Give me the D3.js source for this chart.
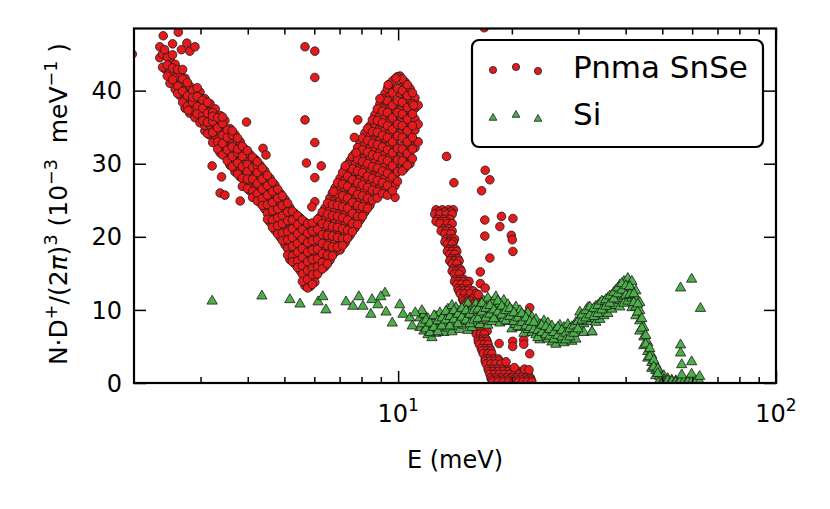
<!DOCTYPE html>
<html><head><meta charset="utf-8">
<script src="https://cdn.jsdelivr.net/npm/d3@7/dist/d3.min.js"></script>
<style>html,body{margin:0;padding:0;background:#fff}svg{display:block;font-family:"DejaVu Sans",sans-serif}</style>
</head><body><svg id="c" width="830" height="509"></svg>
<script>
// ---------- tick values ----------
const xTicks = [10, 100];
const xMinor = [3,4,5,6,7,8,9,20,30,40,50,60,70,80,90];
const yTicks = [0, 10, 20, 30, 40];
const seriesNames = ["Pnma SnSe", "Si"];

// ---------- Pnma SnSe : main V-shaped band (E columns, D values) ----------
const snseColE = [2.34,2.41,2.49,2.57,2.65,2.73,2.81,2.90,2.99,3.08,3.18,3.28,3.38,3.48,3.59,3.70,3.82,3.93,4.05,4.18,4.31,4.44,4.58,4.72,4.87,5.02,5.17,5.33,5.50,5.67,5.85,6.02,6.21,6.40,6.60,6.81,7.02,7.24,7.46,7.69,7.93,8.17,8.42,8.68,8.95,9.23,9.51,9.81,10.11,10.42,10.75,11.08,11.3];
const snseColD = [
 [44.5,46.0],[45.3,43.0],[44.3,42.5,41.0],[43.6,41.8,40.2],[42.4,40.9,39.3],
 [41.7,40.1,38.8,37.6],[40.6,39.5,38.0,36.9],[40.2,38.6,37.2,36.3],[39.8,38.3,37.0,35.6,39.0],
 [38.9,37.4,36.1,34.5,35.2],[38.2,36.6,35.3,33.9,37.1],[37.5,36.0,34.8,33.3,35.5],
 [36.6,35.1,33.7,32.2,34.4,31.5],[35.9,34.3,33.0,31.4,32.5],[34.8,33.4,32.1,30.6,29.8,31.7],
 [34.0,32.6,31.2,29.9,28.9,30.6],[33.0,31.8,30.4,29.1,28.2,30.0],[32.0,30.7,29.5,28.3,27.2,29.9],
 [31.3,30.0,28.7,27.5,26.3,29.2],[30.6,29.3,28.0,26.8,25.6,27.6],[29.8,28.5,27.1,26.0,24.7,27.9],
 [29.0,27.6,26.3,25.0,23.8,26.8],[28.0,26.7,25.3,24.0,22.7,25.8,22.0],[27.1,25.8,24.4,23.2,21.9,20.9,24.9],
 [26.0,24.8,23.5,22.3,21.0,20.0,23.9],[25.1,23.9,22.6,21.3,20.1,18.9,22.0],
 [24.0,22.8,21.6,20.3,19.1,17.8,21.0,16.9],[23.2,22.0,20.8,19.5,18.3,17.1,16.3,21.4],
 [22.6,21.3,20.0,18.8,17.5,16.2,15.4,19.5],[22.0,20.7,19.4,18.1,16.9,15.6,14.5,17.7,13.3],
 [21.5,20.2,19.0,17.7,16.4,15.2,14.3,18.5,13.2],[21.8,20.5,19.2,17.9,16.6,15.3,14.6,13.8],
 [22.7,21.2,19.8,18.6,17.3,16.0,15.4,20.5],[23.9,22.4,21.0,19.6,18.3,17.0,15.9,20.3],
 [25.3,23.8,22.3,20.9,19.5,18.1,16.8,21.6],[26.7,25.2,23.6,22.2,20.7,19.3,17.9,24.5],
 [28.0,26.5,25.0,23.5,22.0,20.6,19.2,18.2,24.2],[29.4,27.9,26.4,24.8,23.3,21.8,20.4,19.2,25.7],
 [30.4,28.9,27.3,25.8,24.3,22.8,21.4,20.2,26.6],[31.4,29.9,28.3,26.8,25.2,23.7,22.2,21.2,27.8,24.6],
 [32.8,31.2,29.6,28.0,26.5,25.0,23.5,22.3,30.4],[34.2,32.6,31.0,29.4,27.8,26.3,24.8,23.4,28.6,31.8],
 [35.2,33.7,32.1,30.5,28.9,27.3,25.8,24.3,31.0],[36.7,35.1,33.5,31.8,30.2,28.6,27.0,25.5,34.2,29.4],
 [38.2,36.5,34.9,33.2,31.6,30.0,28.4,26.8,26.0,35.7],[39.6,37.9,36.3,34.6,32.9,31.3,29.7,28.1,26.5,38.6,33.5],
 [40.9,39.3,37.6,35.9,34.3,32.6,31.0,29.3,27.7,26.4,36.6],[41.6,40.0,38.3,36.7,35.0,33.4,31.8,30.1,28.5,27.0,25.4,37.5],
 [42.0,40.5,38.9,37.3,35.7,34.1,32.4,30.8,29.2,39.6],[41.2,39.7,38.2,36.6,35.0,33.4,31.8,30.2,29.4],
 [40.3,38.8,37.3,35.7,34.1,32.6,31.1,30.0,36.4],[39.0,37.6,36.1,34.6,33.1,32.2],[38.0,35.4,33.0]
];
// interleaved columns of the same band
const snseColE2 = [2.38,2.45,2.53,2.61,2.69,2.77,2.86,2.94,3.04,3.13,3.23,3.33,3.43,3.53,3.64,3.76,3.87,3.99,4.12,4.24,4.37,4.51,4.65,4.80,4.94,5.10,5.25,5.42,5.58,5.76,5.93,6.12,6.30,6.50,6.70,6.91,7.13,7.35,7.57,7.81,8.05,8.30,8.55,8.81,9.09,9.37,9.66,9.96,10.26,10.58,10.91];
const snseColD2 = [
 [45.0,43.2],[44.6,42.0,43.5],[43.1,41.5,44.9],[42.9,40.6,39.6],[41.6,39.9,42.9,38.4],[41.1,39.3,37.9],
 [40.0,38.4,39.1,37.3],[39.2,37.8,36.8,40.4],[38.7,36.6,35.9,37.6],[38.4,36.9,35.7,34.1],[37.0,35.8,34.3,36.5,32.9],
 [36.3,34.9,33.0,32.0],[35.5,33.9,32.8,31.2,36.4],[34.6,33.6,31.9,30.4],[33.9,32.3,31.0,29.6,34.5],
 [33.5,31.5,30.1,28.6,32.0],[32.4,31.0,29.6,28.0,26.9],[31.8,29.9,28.9,27.9,26.6],[30.9,29.5,27.9,26.2,25.4],
 [29.7,28.8,27.3,25.9,24.9,30.3],[29.4,27.9,26.5,25.2,24.3],[28.4,27.0,25.7,24.4,23.2,22.4],
 [27.5,26.2,24.7,23.6,22.3,21.3],[26.5,25.3,23.8,22.6,21.5,20.4],[25.6,24.3,22.9,21.8,20.5,19.5],
 [24.6,23.4,22.2,20.7,19.6,18.4,17.5],[23.5,22.3,21.1,19.9,18.7,17.4,16.6],[22.9,21.7,20.4,19.1,17.9,16.7,15.8],
 [22.3,21.0,19.7,18.4,17.2,16.0,14.9,13.9],[21.8,20.5,19.2,17.9,16.6,15.4,14.2,13.0],
 [21.9,20.8,19.5,18.2,16.9,15.7,14.8,13.5],[22.4,21.0,19.6,18.3,17.0,15.9,14.9],
 [23.4,21.8,20.3,19.1,17.7,16.5,15.6],[24.6,23.1,21.6,20.2,18.8,17.5,16.3],[26.0,24.4,22.9,21.4,20.1,18.6,17.4],
 [27.4,25.9,24.3,22.8,21.3,19.9,18.6],[28.8,27.2,25.6,24.1,22.6,21.1,19.7,18.8],[29.9,28.3,26.9,25.3,23.9,22.3,20.9,19.8],
 [31.0,29.3,27.8,26.3,24.7,23.2,21.8,20.7],[32.2,30.6,29.0,27.4,25.8,24.3,22.8,21.7],
 [33.5,31.9,30.3,28.8,27.1,25.6,24.1,22.8],[34.8,33.2,31.6,30.0,28.3,26.8,25.3,23.9],
 [36.0,34.4,32.8,31.2,29.6,28.0,26.4,25.0],[37.5,35.9,34.3,32.6,31.0,29.4,27.7,26.2,25.3],
 [38.9,37.2,35.6,33.9,32.3,30.6,29.0,27.4,25.9],[40.3,38.6,37.0,35.2,33.6,31.9,30.4,28.7,27.0,25.7],
 [41.3,39.7,38.0,36.3,34.7,33.0,31.5,29.7,28.2,26.3],[41.9,40.3,38.6,37.0,35.4,33.8,32.1,30.5,28.9,27.6],
 [41.6,40.0,38.4,36.8,35.2,33.6,32.0,30.4,29.0],[40.8,39.3,37.7,36.1,34.5,33.0,31.4,29.8],
 [39.7,38.2,36.8,35.2,33.6,32.0,30.7]
];

// ---------- Pnma SnSe : steep second branch (D rows, E values) ----------
const snseBrD = [23.7,23.4,23.1,22.4,22.1,21.8,21.1,20.8,20.4,19.7,19.3,19.0,18.3,18.0,17.6,17.0,16.7,16.3,15.6,15.3,14.9,14.2,13.9,13.5,12.9,12.6,12.2,11.5,11.2,10.8,10.1,9.8,9.4,8.8,8.4,8.1,7.4,7.1,6.7,6.0,5.7,5.3,4.7,4.4,4.0,3.3,3.0,2.6,1.9,1.6,1.2,0.7,0.4,0.15];
const snseBrE = [
 [12.6,13.1,13.6,14.0],[12.8,13.3,13.8],[12.5,12.9,13.4,13.9],[12.7,13.2,13.7],[12.6,13.0,13.4],[12.9,13.5,13.9],
 [13.2,13.6],[13.0,13.4,13.9],[13.3,13.8],[13.4,13.8,14.1],[13.3,13.7,14.0],[13.5,13.9],
 [13.6,14.0,14.2],[13.5,13.9,14.3],[13.7,14.1],[13.8,14.2,14.4],[13.7,14.1,14.5],[13.9,14.3],
 [14.0,14.4,14.6],[13.9,14.3,14.7],[14.1,14.5],[14.2,14.6,14.9],[14.1,14.5,14.9,15.4],[14.3,14.7,15.2],
 [14.4,14.8,15.4],[14.5,14.9,15.3,15.8],[14.6,15.0,15.5,16.1],[14.8,15.2,15.7,16.3],[14.9,15.3,15.6,16.1],
 [15.0,15.4,15.9,16.4],[15.2,15.6,16.1],[15.3,15.7,16.2],[15.4,15.8,16.3],[15.6,16.0,16.5],[15.7,16.1,16.5],
 [15.8,16.2,16.6],[15.9,16.3,16.8],[16.0,16.4,16.8,17.2],[16.1,16.5,16.9],[16.3,16.7,17.1],[16.3,16.7,17.2],
 [16.4,16.9,17.3],[16.6,17.1,17.5],[16.7,17.2,17.6],[16.8,17.3,17.7],[17.0,17.4,17.9,18.4],[17.0,17.5,18.0,18.5],
 [17.1,17.6,18.1,18.7],[17.3,17.8,18.3,18.9,19.5],[17.4,17.9,18.4,19.0,19.6,20.2,20.8,21.4,22.0],
 [17.5,18.0,18.5,19.1,19.7,20.3,20.9,21.5,22.1],[17.6,18.2,18.8,19.4,20.0,20.6,21.2,21.8,22.4],
 [17.7,18.3,18.9,19.5,20.1,20.7,21.3,21.9,22.5],[17.8,18.4,19.0,19.6,20.2,20.8,21.4,22.0,22.6]
];

// ---------- Pnma SnSe : scattered points [E, D] ----------
const snseExtra = [
 [1.98,45.0],[2.39,47.5],[2.53,46.4],[2.67,45.6],[2.76,46.5],[2.81,45.4],[2.90,46.0],[2.41,45.6],[2.62,48.0],
 [2.78,37.3],[3.22,29.7],[3.41,28.2],[3.38,26.0],[3.48,25.7],[3.82,24.9],[3.97,35.7],[4.39,32.1],[4.47,31.2],
 [5.67,46.0],[6.02,45.4],[6.02,41.8],[5.67,36.0],[6.02,32.9],[5.72,30.1],[6.26,29.7],[6.02,28.1],[6.02,24.8],[5.91,24.1],
 [7.82,36.0],[7.66,33.6],[7.74,31.5],[7.25,29.7],[6.75,26.2],[9.87,41.7],[9.41,40.8],[8.95,38.9],[11.0,38.0],
 [13.43,31.0],[14.05,27.4],[17.0,29.1],[17.49,27.8],[16.63,26.3],[16.9,48.6],
 [16.96,22.3],[18.59,21.4],[18.77,22.8],[20.13,22.5],[16.96,20.1],[19.93,20.2],[20.05,19.6],[20.13,18.0],
 [17.49,17.1],[16.5,15.2],[16.5,13.6],[17.0,13.0],[16.3,12.1],[22.3,10.3],[21.9,9.4],
 [18.5,5.4],[20.1,5.7],[20.1,5.0],[21.5,5.9],[21.5,5.3],[22.3,4.0],[19.3,2.9],[20.3,2.1],[21.6,1.9],[22.2,1.8]
];

// ---------- Si : dense band (E columns, D values) ----------
const siColE = [11.42,11.70,11.99,12.29,12.59,12.90,13.22,13.54,13.88,14.22,14.57,14.93,15.30,15.68,16.06,16.46,16.86,17.28,17.70,18.14,18.59,19.04,19.52,20.00,20.49,21.00,21.52,22.05,22.59,23.15,23.72,24.31,24.91,25.52,26.15,26.79,27.46,28.13,28.83,29.54,30.26,31.01,31.78,32.56,33.37,34.18,35.03,35.89,36.78,37.69,38.61,39.57,40.54,41.55,42.57,43.60,44.68,45.78,46.91,48.07,49.25,50.47,51.71,52.99,54.29,55.63,57.01,58.41,59.85,61.33,62.83];
const siColD = [
 [8.9,7.6],[8.3,7.1,9.4],[7.9,6.6,8.8],[8.6,7.3,6.2],[9.1,7.8,6.8],[8.4,7.2,9.6],[9.3,8.0,6.9],[10.1,8.7,7.5],
 [9.6,8.3,7.0,10.6],[9.0,7.7,10.3],[9.8,8.5,7.3],[10.4,9.1,7.9],[9.7,8.4,7.2,10.9],[10.2,8.9,7.6],[9.5,8.2,10.8],
 [10.6,9.3,8.0],[11.2,9.9,8.6],[10.5,9.2,7.9,11.6],[11.0,9.7,8.4],[10.3,9.0,11.8],[10.8,9.5,8.2],[10.1,8.8,11.3],
 [9.6,8.4,10.7],[9.9,8.6,7.4],[9.3,8.0,10.4],[8.8,7.6,9.9],[9.2,7.9,6.8],[8.5,7.3,9.6],[8.1,6.9,9.0],[7.7,6.6,8.7],
 [8.0,6.8,5.9],[7.4,6.3,8.5],[7.1,6.0,8.2],[6.7,5.6,7.8],[7.3,6.2,5.3],[7.0,5.9,7.9],[6.5,5.5,7.6],[7.2,6.1,8.0],
 [7.7,6.6,5.7],[8.3,7.1,6.0],[8.8,7.6,9.7],[9.2,8.1,6.9],[9.6,8.4,10.3],[10.0,8.8,7.0],[9.4,8.3,10.5],[9.8,8.7,10.9],
 [10.3,9.2,11.1],[10.7,9.5,11.6],[11.2,10.1,12.0],[11.9,10.6,12.7],[12.5,11.3,13.4,10.4],[13.1,11.8,13.9,10.9],
 [13.6,12.3,14.3,11.2],[12.8,11.6,10.3,13.9],[11.7,10.4,9.2,12.6],[9.9,8.5,7.1,11.0],[7.6,6.3,5.1],[5.5,4.3,3.4],
 [3.8,2.8,2.0],[2.5,1.7,1.0],[1.5,0.9,0.4],[1.0,0.5,0.2],[0.6,0.3],[0.4,0.2],[0.3,0.1],[0.4,0.15],[0.2],[0.3,0.1],[0.2],[0.3],[0.2]
];
const siColE2 = [11.56,11.85,12.14,12.44,12.74,13.06,13.38,13.71,14.05,14.40,14.75,15.12,15.49,15.87,16.26,16.66,17.07,17.49,17.92,18.36,18.81,19.27,19.76,20.24,20.74,21.25,21.78,22.32,22.87,23.43,24.01,24.61,25.21,25.83,26.47,27.12,27.79,28.47,29.18,29.90,30.64,31.39,32.16,32.96,33.77,34.60,35.45,36.33,37.22,38.14,39.08,40.05,41.03,42.05,43.08,44.14,45.23,46.34,47.49,48.66];
const siColD2 = [
 [8.1,9.9],[7.4,8.6],[8.2,6.9],[7.6,9.2],[8.5,7.0],[7.8,8.9],[8.6,9.8],[9.1,7.8],[8.7,9.9],[8.1,9.4],
 [9.0,10.2],[8.6,9.9],[9.4,8.1],[9.9,8.6],[10.1,8.8],[9.7,10.9],[10.2,8.9],[10.6,9.4],[10.0,8.8],[9.7,11.2],
 [9.3,10.5],[9.9,8.5],[9.1,10.2],[8.4,9.6],[8.9,7.7],[8.3,9.5],[7.8,8.9],[7.6,8.4],[7.3,8.3],[7.2,6.2],
 [6.9,7.9],[6.6,7.7],[6.4,7.3],[6.0,6.9],[6.5,7.6],[6.3,7.2],[6.8,5.9],[7.4,6.3],[7.8,6.8],[8.4,7.4],
 [8.6,9.3],[8.9,9.9],[9.3,10.4],[9.1,10.2],[9.5,10.6],[10.0,11.2],[10.5,11.4],[10.9,11.9],[11.5,12.4],[12.2,13.0],
 [12.7,13.6],[13.3,12.0],[13.2,12.1],[12.2,11.0],[10.8,9.7],[8.8,7.5],[6.5,5.3],[4.7,3.6],[3.1,2.2],[1.9,1.3]
];

// ---------- Si : scattered points [E, D] ----------
const siExtra = [
 [3.22,11.2],[4.36,11.9],[5.17,11.4],[5.5,10.8],[6.14,11.1],[6.32,11.8],[6.44,10.0],[7.28,11.1],[7.59,10.5],[7.87,11.8],
 [8.07,10.5],[8.53,11.4],[8.84,10.7],[9.23,12.3],[9.0,11.8],[8.47,9.4],[9.29,9.7],[9.65,8.2],[10.1,10.7],[10.3,9.4],
 [10.75,8.9],[11.1,9.6],[10.9,7.8],[32.6,7.0],[55.9,13.0],[59.8,14.2],[63.1,10.2],[55.9,5.2],[55.9,4.1],[59.8,2.9],
 [56.3,2.5],[56.3,1.1],[59.8,1.2],[62.8,0.9]
];

// ---------- build point lists ----------
const snse = [];
snseColE.forEach((e,i)=>snseColD[i].forEach(d=>snse.push([e,d])));
snseColE2.forEach((e,i)=>snseColD2[i].forEach(d=>snse.push([e,d])));
snseBrD.forEach((d,i)=>snseBrE[i].forEach(e=>snse.push([e,d])));
snseExtra.forEach(p=>snse.push(p));
const si = [];
siColE.forEach((e,i)=>siColD[i].forEach(d=>si.push([e,d])));
siColE2.forEach((e,i)=>siColD2[i].forEach(d=>si.push([e,d])));
siExtra.forEach(p=>si.push(p));

// ---------- layout ----------
const L=134, R=776, T=28.5, B=383;
const red="#e41a1c", green="#4daf4a";
const svg=d3.select("#c");
svg.append("rect").attr("width",830).attr("height",509).attr("fill","#fff");
const x=d3.scaleLog().domain([2,100]).range([L,R]);
const y=d3.scaleLinear().domain([0,48.5]).range([B,T]);

svg.append("defs").append("clipPath").attr("id","clip")
  .append("rect").attr("x",L).attr("y",T).attr("width",R-L).attr("height",B-T);
const gd=svg.append("g").attr("clip-path","url(#clip)");

gd.append("g").selectAll("circle").data(snse).join("circle")
  .attr("cx",d=>x(d[0])).attr("cy",d=>y(d[1])).attr("r",4.3)
  .attr("fill",red).attr("stroke","#1a1a1a").attr("stroke-width",0.8);

const tri=d3.symbol().type(d3.symbolTriangle).size(46);
gd.append("g").selectAll("path").data(si).join("path")
  .attr("d",tri).attr("transform",d=>`translate(${x(d[0])},${y(d[1])})`)
  .attr("fill",green).attr("stroke","#1a1a1a").attr("stroke-width",0.8);

// ---------- axes (ticks inward on all sides) ----------
function styleAxis(g){ g.select(".domain").remove(); g.selectAll(".tick line").attr("stroke","#000").attr("stroke-width",1.5); g.selectAll(".tick text").remove(); }
svg.append("g").attr("transform",`translate(0,${B})`).call(d3.axisBottom(x).tickValues(xTicks).tickSize(-12)).call(styleAxis);
svg.append("g").attr("transform",`translate(0,${B})`).call(d3.axisBottom(x).tickValues(xMinor).tickSize(-6)).call(styleAxis);
svg.append("g").attr("transform",`translate(0,${T})`).call(d3.axisTop(x).tickValues(xTicks).tickSize(-12)).call(styleAxis);
svg.append("g").attr("transform",`translate(0,${T})`).call(d3.axisTop(x).tickValues(xMinor).tickSize(-6)).call(styleAxis);
svg.append("g").attr("transform",`translate(${L},0)`).call(d3.axisLeft(y).tickValues(yTicks).tickSize(-12)).call(styleAxis);
svg.append("g").attr("transform",`translate(${R},0)`).call(d3.axisRight(y).tickValues(yTicks).tickSize(-12)).call(styleAxis);

svg.append("rect").attr("x",L).attr("y",T).attr("width",R-L).attr("height",B-T)
  .attr("fill","none").attr("stroke","#000").attr("stroke-width",2.2);

// tick labels
const fs=24;
yTicks.forEach(v=>{
  svg.append("text").attr("x",L-12).attr("y",y(v)).attr("dy","0.36em")
    .attr("text-anchor","end").attr("font-size",fs).text(v);
});
xTicks.forEach(v=>{
  const t=svg.append("text").attr("x",x(v)).attr("y",422).attr("text-anchor","middle").attr("font-size",fs);
  t.append("tspan").text("10");
  t.append("tspan").attr("dy",-11).attr("font-size",17).text(Math.round(Math.log10(v)));
});

// axis titles
svg.append("text").attr("x",(L+R)/2).attr("y",468).attr("text-anchor","middle").attr("font-size",fs).text("E (meV)");
const yl=svg.append("text").attr("transform",`translate(67,204) rotate(-90)`)
  .attr("text-anchor","middle").attr("font-size",25).style("white-space","pre");
const sup=(s)=>{yl.append("tspan").attr("dy",-10).attr("font-size",17.5).text(s);};
const base=(s)=>{yl.append("tspan").attr("dy",10).text(s);};
yl.append("tspan").text("N\u00b7D");
sup("+");
base("/(2");
yl.append("tspan").attr("font-style","italic").text("\u03c0");
yl.append("tspan").text(")");
sup("3");
base(" (10");
sup("\u22123");
base("  meV");
sup("\u22121");
base(" )");

// ---------- legend ----------
const lg=svg.append("g");
lg.append("rect").attr("x",472).attr("y",40).attr("width",291).attr("height",107).attr("rx",7)
  .attr("fill","#fff").attr("stroke","#000").attr("stroke-width",2.2);
[[493,70],[516,67],[538,71]].forEach(p=>lg.append("circle").attr("cx",p[0]).attr("cy",p[1]).attr("r",3.6)
  .attr("fill",red).attr("stroke","#1a1a1a").attr("stroke-width",0.8));
const tri2=d3.symbol().type(d3.symbolTriangle).size(26);
[[493,118],[516,115],[538,119]].forEach(p=>lg.append("path").attr("d",tri2).attr("transform",`translate(${p[0]},${p[1]})`)
  .attr("fill",green).attr("stroke","#1a1a1a").attr("stroke-width",0.8));
lg.append("text").attr("x",573).attr("y",78).attr("font-size",31).text(seriesNames[0]);
lg.append("text").attr("x",573).attr("y",125).attr("font-size",31).text(seriesNames[1]);
</script></body></html>
